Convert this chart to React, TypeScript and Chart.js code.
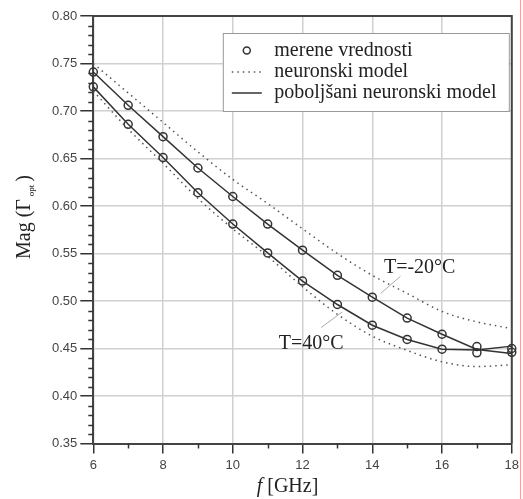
import React, { useEffect, useRef } from "react";
import { Chart, registerables } from "chart.js";

Chart.register(...registerables);

const freq = [6, 7, 8, 9, 10, 11, 12, 13, 14, 15, 16, 17, 18];
const measuredM20 = [0.741, 0.706, 0.673, 0.64, 0.61, 0.581, 0.5535, 0.527, 0.504, 0.482, 0.465, 0.452, 0.446];
const measured40 = [0.7254, 0.686, 0.651, 0.614, 0.581, 0.5506, 0.521, 0.4963, 0.4745, 0.4595, 0.4493, 0.4454, 0.45];
const improvedM20 = [0.741, 0.706, 0.673, 0.64, 0.61, 0.581, 0.5535, 0.527, 0.504, 0.482, 0.465, 0.449, 0.4447];
const improved40 = [0.7254, 0.686, 0.651, 0.614, 0.581, 0.5506, 0.521, 0.4963, 0.4745, 0.4595, 0.4493, 0.4485, 0.4525];
const neuralM20 = [0.75, 0.719, 0.688, 0.657, 0.628, 0.6026, 0.576, 0.55, 0.527, 0.508, 0.489, 0.478, 0.471];
const neural40 = [0.721, 0.681, 0.645, 0.608, 0.576, 0.547, 0.515, 0.486, 0.463, 0.448, 0.436, 0.431, 0.433];

const legendLabels = ["merene vrednosti", "neuronski model", "poboljšani neuronski model"];
const annotations = [
  { text: "T=-20°C", tx: 15.36, ty: 0.535, x1: 14.24, y1: 0.508, x2: 14.81, y2: 0.526 },
  { text: "T=40°C", tx: 12.25, ty: 0.4546, x1: 12.53, y1: 0.472, x2: 13.14, y2: 0.4885 },
];
const xTitleItalic = "f";
const xTitleRest = " [GHz]";
const yTitleMain = "Mag (Γ";
const yTitleSub = "opt";
const yTitleEnd = ")";

const pts = (ys: number[]) => ys.map((y, i) => ({ x: freq[i], y }));
const SERIF = "'Liberation Serif', 'Times New Roman', serif";
const SANS = "'Liberation Sans', Arial, sans-serif";
const INK = "#333";

const decor = {
  id: "decor",
  beforeDatasetsDraw(chart: any) {
    const { ctx, chartArea: a, scales } = chart;
    const xs = scales.x, ys = scales.y;
    ctx.save();
    // minor ticks
    ctx.strokeStyle = INK;
    ctx.lineWidth = 1.5;
    for (let k = 35; k <= 80; k++) {
      if (k % 5 === 0) continue;
      const py = Math.round(ys.getPixelForValue(k / 100)) + 0.5;
      ctx.beginPath();
      ctx.moveTo(a.left - 5, py);
      ctx.lineTo(a.left, py);
      ctx.stroke();
    }
    for (let k = 7; k <= 17; k += 2) {
      const px = Math.round(xs.getPixelForValue(k)) + 0.5;
      ctx.beginPath();
      ctx.moveTo(px, a.bottom);
      ctx.lineTo(px, a.bottom + 5);
      ctx.stroke();
    }
    // frame top/right
    ctx.strokeStyle = "#444";
    ctx.lineWidth = 2;
    ctx.beginPath();
    ctx.moveTo(a.left, a.top);
    ctx.lineTo(a.right, a.top);
    ctx.lineTo(a.right, a.bottom);
    ctx.stroke();
    // annotations
    ctx.strokeStyle = "#aaa";
    ctx.lineWidth = 1;
    ctx.fillStyle = "#222";
    ctx.font = `20px ${SERIF}`;
    ctx.textAlign = "center";
    ctx.textBaseline = "middle";
    for (const an of annotations) {
      ctx.beginPath();
      ctx.moveTo(xs.getPixelForValue(an.x1), ys.getPixelForValue(an.y1));
      ctx.lineTo(xs.getPixelForValue(an.x2), ys.getPixelForValue(an.y2));
      ctx.stroke();
      ctx.fillText(an.text, xs.getPixelForValue(an.tx), ys.getPixelForValue(an.ty));
    }
    ctx.restore();
  },
  afterDraw(chart: any) {
    const { ctx, chartArea: a } = chart;
    ctx.save();
    // legend
    const lx = a.left + 129.5, ly = a.top + 17, lw = 286, lh = 78;
    ctx.fillStyle = "#fff";
    ctx.fillRect(lx, ly, lw, lh);
    ctx.strokeStyle = "#999";
    ctx.lineWidth = 1;
    ctx.strokeRect(lx + 0.5, ly + 0.5, lw, lh);
    const rows = [ly + 17.5, ly + 39, ly + 60];
    ctx.strokeStyle = INK;
    ctx.lineWidth = 1.5;
    ctx.beginPath();
    ctx.arc(lx + 24, rows[0], 3.5, 0, Math.PI * 2);
    ctx.stroke();
    ctx.strokeStyle = "#555";
    ctx.setLineDash([1.5, 4]);
    ctx.beginPath();
    ctx.moveTo(lx + 9, rows[1]);
    ctx.lineTo(lx + 39, rows[1]);
    ctx.stroke();
    ctx.setLineDash([]);
    ctx.strokeStyle = INK;
    ctx.beginPath();
    ctx.moveTo(lx + 9, rows[2]);
    ctx.lineTo(lx + 39, rows[2]);
    ctx.stroke();
    ctx.fillStyle = "#222";
    ctx.font = `20px ${SERIF}`;
    ctx.textAlign = "left";
    ctx.textBaseline = "middle";
    legendLabels.forEach((t, i) => ctx.fillText(t, lx + 51.5, rows[i]));

    // x title
    ctx.font = `italic 20px ${SERIF}`;
    const w1 = ctx.measureText(xTitleItalic).width;
    ctx.font = `20px ${SERIF}`;
    const w2 = ctx.measureText(xTitleRest).width;
    const cx = (a.left + a.right) / 2 - 15;
    let sx = cx - (w1 + w2) / 2;
    ctx.font = `italic 20px ${SERIF}`;
    ctx.fillText(xTitleItalic, sx, 487);
    ctx.font = `20px ${SERIF}`;
    ctx.fillText(xTitleRest, sx + w1, 487);

    // y title
    ctx.translate(25, 217);
    ctx.rotate(-Math.PI / 2);
    ctx.font = `20px ${SERIF}`;
    const m1 = ctx.measureText(yTitleMain).width;
    const m3 = ctx.measureText(yTitleEnd).width;
    ctx.font = `9px ${SERIF}`;
    const m2 = ctx.measureText(yTitleSub).width + 6;
    let p = -(m1 + m2 + m3) / 2;
    ctx.font = `20px ${SERIF}`;
    ctx.fillText(yTitleMain, p, 0);
    ctx.font = `9px ${SERIF}`;
    ctx.fillText(yTitleSub, p + m1 + 3, 7);
    ctx.font = `20px ${SERIF}`;
    ctx.fillText(yTitleEnd, p + m1 + m2, 0);
    ctx.restore();

    // red edge line
    ctx.save();
    ctx.strokeStyle = "#f3a0a0";
    ctx.lineWidth = 1;
    ctx.beginPath();
    ctx.moveTo(520.5, 0);
    ctx.lineTo(520.5, chart.height);
    ctx.stroke();
    ctx.restore();
  },
};

export default function App() {
  const ref = useRef<HTMLCanvasElement | null>(null);
  useEffect(() => {
    document.body.style.margin = "0";
    if (!ref.current) return;
    const lineDs = (data: number[], dashed: boolean) => ({
      type: "line" as const,
      data: pts(data),
      borderColor: dashed ? "#555" : INK,
      borderWidth: 1.5,
      borderDash: dashed ? [1.5, 4] : [],
      pointRadius: 0,
      tension: dashed ? 0.4 : 0,
      cubicInterpolationMode: dashed ? ("monotone" as const) : ("default" as const),
      fill: false,
      clip: false as any,
    });
    const markDs = (data: number[]) => ({
      type: "scatter" as const,
      data: pts(data),
      borderColor: INK,
      backgroundColor: "rgba(0,0,0,0)",
      borderWidth: 1.5,
      pointRadius: 4,
      showLine: false,
      clip: false as any,
    });
    const chart = new Chart(ref.current, {
      type: "line",
      data: {
        datasets: [
          lineDs(neuralM20, true),
          lineDs(neural40, true),
          lineDs(improvedM20, false),
          lineDs(improved40, false),
          markDs(measuredM20),
          markDs(measured40),
        ] as any,
      },
      options: {
        animation: false,
        responsive: false,
        maintainAspectRatio: false,
        layout: { padding: { top: 16, right: 10, left: 0, bottom: 0 } },
        plugins: { legend: { display: false }, tooltip: { enabled: false }, title: { display: false } },
        scales: {
          x: {
            type: "linear",
            min: 6,
            max: 18,
            afterFit: (s: any) => { s.height = 55.5; },
            ticks: { stepSize: 2, color: "#444", font: { family: SANS, size: 13 }, padding: 4 },
            grid: { color: "#d0d0d0", lineWidth: 1.5, tickColor: INK, tickLength: 10, tickWidth: 1.5 },
            border: { color: "#444", width: 2 },
          },
          y: {
            type: "linear",
            min: 0.35,
            max: 0.8,
            afterFit: (s: any) => { s.width = 93.3; },
            ticks: {
              stepSize: 0.05,
              color: "#444",
              font: { family: SANS, size: 13 },
              padding: 3,
              callback: (v: any) => Number(v).toFixed(2),
            },
            grid: { color: "#d0d0d0", lineWidth: 1.5, tickColor: INK, tickLength: 13, tickWidth: 1.5 },
            border: { color: "#444", width: 2 },
          },
        },
      },
      plugins: [decor],
    });
    return () => chart.destroy();
  }, []);
  return <canvas ref={ref} width={523} height={499} style={{ display: "block" }} />;
}
